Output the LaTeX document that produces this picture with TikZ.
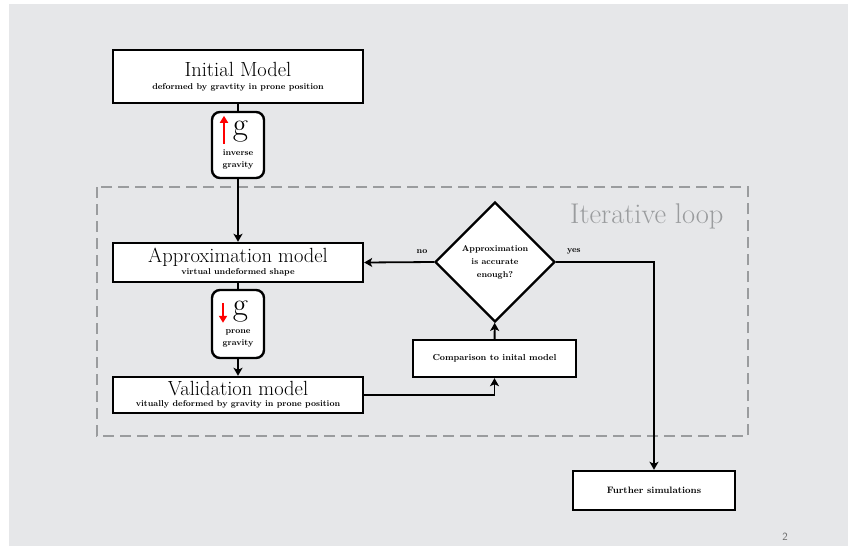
\documentclass[tikz,border=0pt]{standalone}
\usepackage{tikz}
\usetikzlibrary{arrows.meta,shapes.geometric}
\definecolor{slidebg}{HTML}{E6E7E9}
\definecolor{loopgray}{HTML}{9A9C9E}
\newcommand{\bigtitle}{\fontsize{20.5}{21}\selectfont}
\newcommand{\subtitle}{\fontsize{8.5}{13}\selectfont\bfseries}

\begin{document}
\begin{tikzpicture}[x=1pt,y=-1pt,
  blk/.style={draw,line width=2.4pt,fill=white,minimum width=250pt,inner sep=0pt,align=center},
  gbox/.style={draw,line width=2.4pt,fill=white,rounded corners=8pt,minimum width=52pt,minimum height=66pt,inner sep=0pt,align=center},
  flow/.style={line width=1.8pt,-{Stealth[length=8pt,width=9pt,inset=2pt]}},
  link/.style={line width=1.8pt},
  gravity/.style={red,line width=2.8pt,-{Triangle[length=7pt,width=8pt]}}]
\useasboundingbox (0,0) rectangle (848,549);
\fill[slidebg] (9,4) rectangle (848,546);
% iterative loop frame
\draw[loopgray,line width=2.6pt,dash pattern=on 11pt off 6pt] (97,187) rectangle (748,436);
\node[loopgray,font=\fontsize{28.5}{30}\selectfont,anchor=base east] (looplabel) at (727,223) {Iterative loop};

% blocks
\node[blk,minimum height=53pt] (init) at (238,76.5) {\bigtitle Initial Model\\[1pt]\subtitle deformed by gravtity in prone position};
\node[gbox] (ginv) at (238,145) {\fontsize{33}{30}\selectfont\hspace*{5pt}g\\[7pt]\subtitle inverse\\\subtitle gravity};
\node[blk,minimum height=39pt] (approx) at (238,262.5) {\bigtitle Approximation model\\[0pt]\subtitle virtual undeformed shape};
\node[gbox,minimum height=68pt] (gprone) at (238,324) {\fontsize{33}{30}\selectfont\hspace*{5pt}g\\[6pt]\subtitle prone\\\subtitle gravity};
\node[blk,minimum height=36pt] (valid) at (238,395) {\bigtitle Validation model\\[-1pt]\subtitle vitually deformed by gravity in prone position};
\node[draw,diamond,aspect=1,line width=2.4pt,fill=white,minimum size=120pt,inner sep=0pt,align=center,font=\subtitle] (check) at (495,262) {Approximation\\is accurate\\enough?};
\node[blk,minimum width=163pt,minimum height=37pt,font=\fontsize{8.7}{13}\selectfont\bfseries] (compare) at (494.5,358.5) {Comparison to inital model};
\node[blk,minimum width=162pt,minimum height=39pt,font=\fontsize{9.3}{11}\selectfont\bfseries] (further) at (654,490.5) {Further simulations};

% gravity arrows
\draw[gravity] ([shift={(-14,33)}]ginv.north) -- ([shift={(-14,5)}]ginv.north);
\draw[gravity] ([shift={(-15,14)}]gprone.north) -- ([shift={(-15,34)}]gprone.north);

% connectors
\draw[link] (init) -- (ginv);
\draw[flow] (ginv) -- (approx);
\draw[link] (approx) -- (gprone);
\draw[flow] (gprone) -- (valid);
\draw[flow] (valid.east) -| (compare.south);
\draw[flow] (compare) -- (check);
\draw[flow] (check.west) -- node[pos=0.17,above=4pt,font=\subtitle] {no} (approx.east);
\draw[flow] (check.east) -| node[pos=0.09,above=4pt,font=\subtitle] {yes} (further.north);

\node[black!60,font=\sffamily\fontsize{11}{12}\selectfont] (pagenum) at (785,537) {2};
\end{tikzpicture}
\end{document}
